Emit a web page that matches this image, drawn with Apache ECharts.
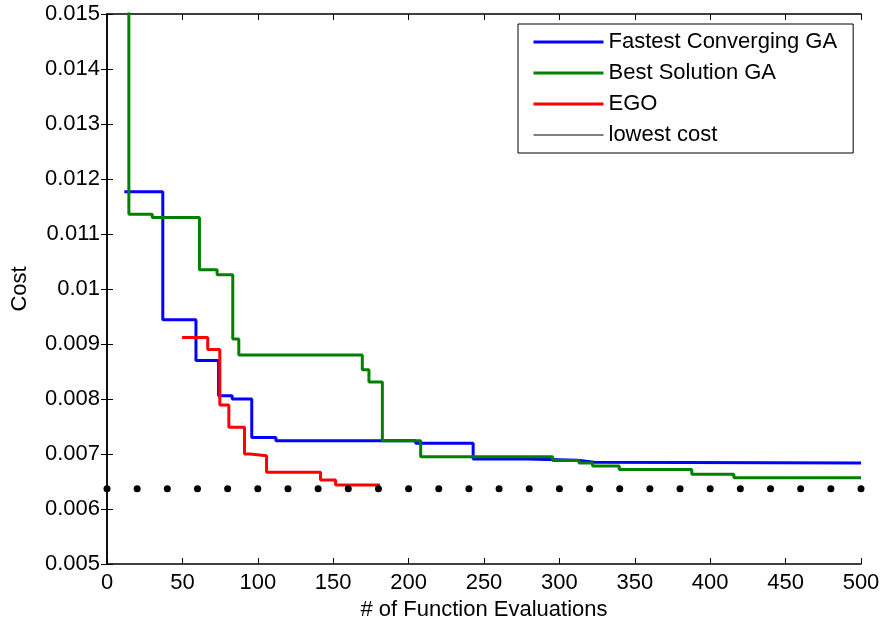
<!DOCTYPE html>
<html>
<head>
<meta charset="utf-8">
<script src="https://cdn.jsdelivr.net/npm/echarts@6/dist/echarts.min.js"></script>
<style>
html, body { margin: 0; padding: 0; background: #ffffff; }
#chart { width: 884px; height: 624px; }
</style>
</head>
<body>
<div id="chart"></div>
<script>
// ---- data ----
const seriesNames = ['Fastest Converging GA', 'Best Solution GA', 'EGO', 'lowest cost'];

// change points of each best-so-far curve (value holds until the next x)
const fastestX = [11.5, 37, 59, 74, 83, 96, 112, 204.7, 242.8, 279, 312, 323, 500];
const fastestY = [0.01177, 0.00944, 0.0087, 0.00806, 0.0080, 0.0073, 0.007242, 0.007194, 0.00691, 0.006885, 0.00685, 0.006836, 0.006836];

const bestX = [13, 14.5, 30, 61.3, 73, 83.4, 87.4, 169.3, 173.7, 182.6, 208, 295.5, 313, 322, 339.7, 387.8, 415.7, 500];
const bestY = [0.0165, 0.01136, 0.0113, 0.01035, 0.01026, 0.00909, 0.0088, 0.00853, 0.00831, 0.007242, 0.00695, 0.00688, 0.006836, 0.00678, 0.00672, 0.00663, 0.00657, 0.00657];

const egoX = [49.8, 66.8, 74.8, 80.8, 91.2, 95, 105.8, 141.6, 151.6, 181];
const egoY = [0.00912, 0.0089, 0.00789, 0.007485, 0.0070, 0.00697, 0.006667, 0.006527, 0.006436, 0.006436];

const lowestX = [0, 20, 40, 60, 80, 100, 120, 140, 160, 180, 200, 220, 240, 260, 280, 300, 320, 340, 360, 380, 400, 420, 440, 460, 480, 500];
const lowestCost = 0.00637;

const xRange = [0, 500];
const xStep = 50;
const yRange = [0.005, 0.015];
const yStep = 0.001;

// ---- build ----
const pairs = (xs, ys) => xs.map((x, i) => [x, ys[i]]);
const font = 'Liberation Sans, Arial, Helvetica, sans-serif';
const fs = 22;
const colors = ['#0000ff', '#008000', '#ff0000', '#000000'];

const chart = echarts.init(document.getElementById('chart'), null, { renderer: 'canvas' });

const baseX = {
  type: 'value', min: xRange[0], max: xRange[1], interval: xStep,
  axisLine: { show: true, lineStyle: { color: '#000', width: 1.5 } },
  axisTick: { show: true, inside: true, length: 6, lineStyle: { color: '#000', width: 1 } },
  splitLine: { show: false }
};
const baseY = {
  type: 'value', min: yRange[0], max: yRange[1], interval: yStep,
  axisLine: { show: true, lineStyle: { color: '#000', width: 1.5 } },
  axisTick: { show: true, inside: true, length: 6, lineStyle: { color: '#000', width: 1 } },
  splitLine: { show: false }
};

const option = {
  animation: false,
  backgroundColor: '#ffffff',
  textStyle: { fontFamily: font },
  grid: { left: 107, right: 23, top: 14, bottom: 60, containLabel: false, outerBoundsMode: 'none' },
  xAxis: [
    Object.assign({}, baseX, {
      position: 'bottom',
      name: '# of Function Evaluations', nameLocation: 'middle', nameGap: 33,
      nameTextStyle: { fontSize: fs, color: '#000', fontFamily: font },
      axisLabel: { show: true, margin: 8, fontSize: fs, color: '#000', fontFamily: font }
    }),
    Object.assign({}, baseX, { position: 'top', axisLabel: { show: false } })
  ],
  yAxis: [
    Object.assign({}, baseY, {
      position: 'left',
      name: 'Cost', nameLocation: 'middle', nameGap: 76,
      nameTextStyle: { fontSize: fs, color: '#000', fontFamily: font },
      axisLabel: { show: true, margin: 7, fontSize: fs, color: '#000', fontFamily: font }
    }),
    Object.assign({}, baseY, { position: 'right', axisLabel: { show: false } })
  ],
  legend: {
    orient: 'vertical', left: 518, top: 24,
    padding: [6, 16, 6, 14], itemGap: 7, itemWidth: 70, itemHeight: 24,
    backgroundColor: '#ffffff', borderColor: '#000', borderWidth: 1, borderRadius: 0,
    selectedMode: false,
    textStyle: { fontSize: fs, color: '#000', fontFamily: font, lineHeight: 24 },
    itemStyle: { opacity: 0 },
    data: [
      { name: seriesNames[0], lineStyle: { width: 3, color: colors[0], opacity: 1, type: 'solid' } },
      { name: seriesNames[1], lineStyle: { width: 3, color: colors[1], opacity: 1, type: 'solid' } },
      { name: seriesNames[2], lineStyle: { width: 3, color: colors[2], opacity: 1, type: 'solid' } },
      { name: seriesNames[3], lineStyle: { width: 1, color: colors[3], opacity: 1, type: 'solid' } }
    ]
  },
  series: [
    {
      name: seriesNames[0], type: 'line', step: 'end', symbol: 'none', showSymbol: false,
      data: pairs(fastestX, fastestY), clip: true, z: 3,
      lineStyle: { color: colors[0], width: 3 }, itemStyle: { color: colors[0] }
    },
    {
      name: seriesNames[1], type: 'line', step: 'end', symbol: 'none', showSymbol: false,
      data: pairs(bestX, bestY), clip: true, z: 4,
      lineStyle: { color: colors[1], width: 3 }, itemStyle: { color: colors[1] }
    },
    {
      name: seriesNames[2], type: 'line', step: 'end', symbol: 'none', showSymbol: false,
      data: pairs(egoX, egoY), clip: true, z: 5,
      lineStyle: { color: colors[2], width: 3 }, itemStyle: { color: colors[2] }
    },
    {
      name: seriesNames[3], type: 'line', symbol: 'circle', symbolSize: 7, showSymbol: true,
      data: lowestX.map(x => [x, lowestCost]), clip: true, z: 6,
      lineStyle: { width: 0, opacity: 0, color: colors[3] },
      itemStyle: { color: colors[3], borderWidth: 0 }
    }
  ]
};

chart.setOption(option);
</script>
</body>
</html>
